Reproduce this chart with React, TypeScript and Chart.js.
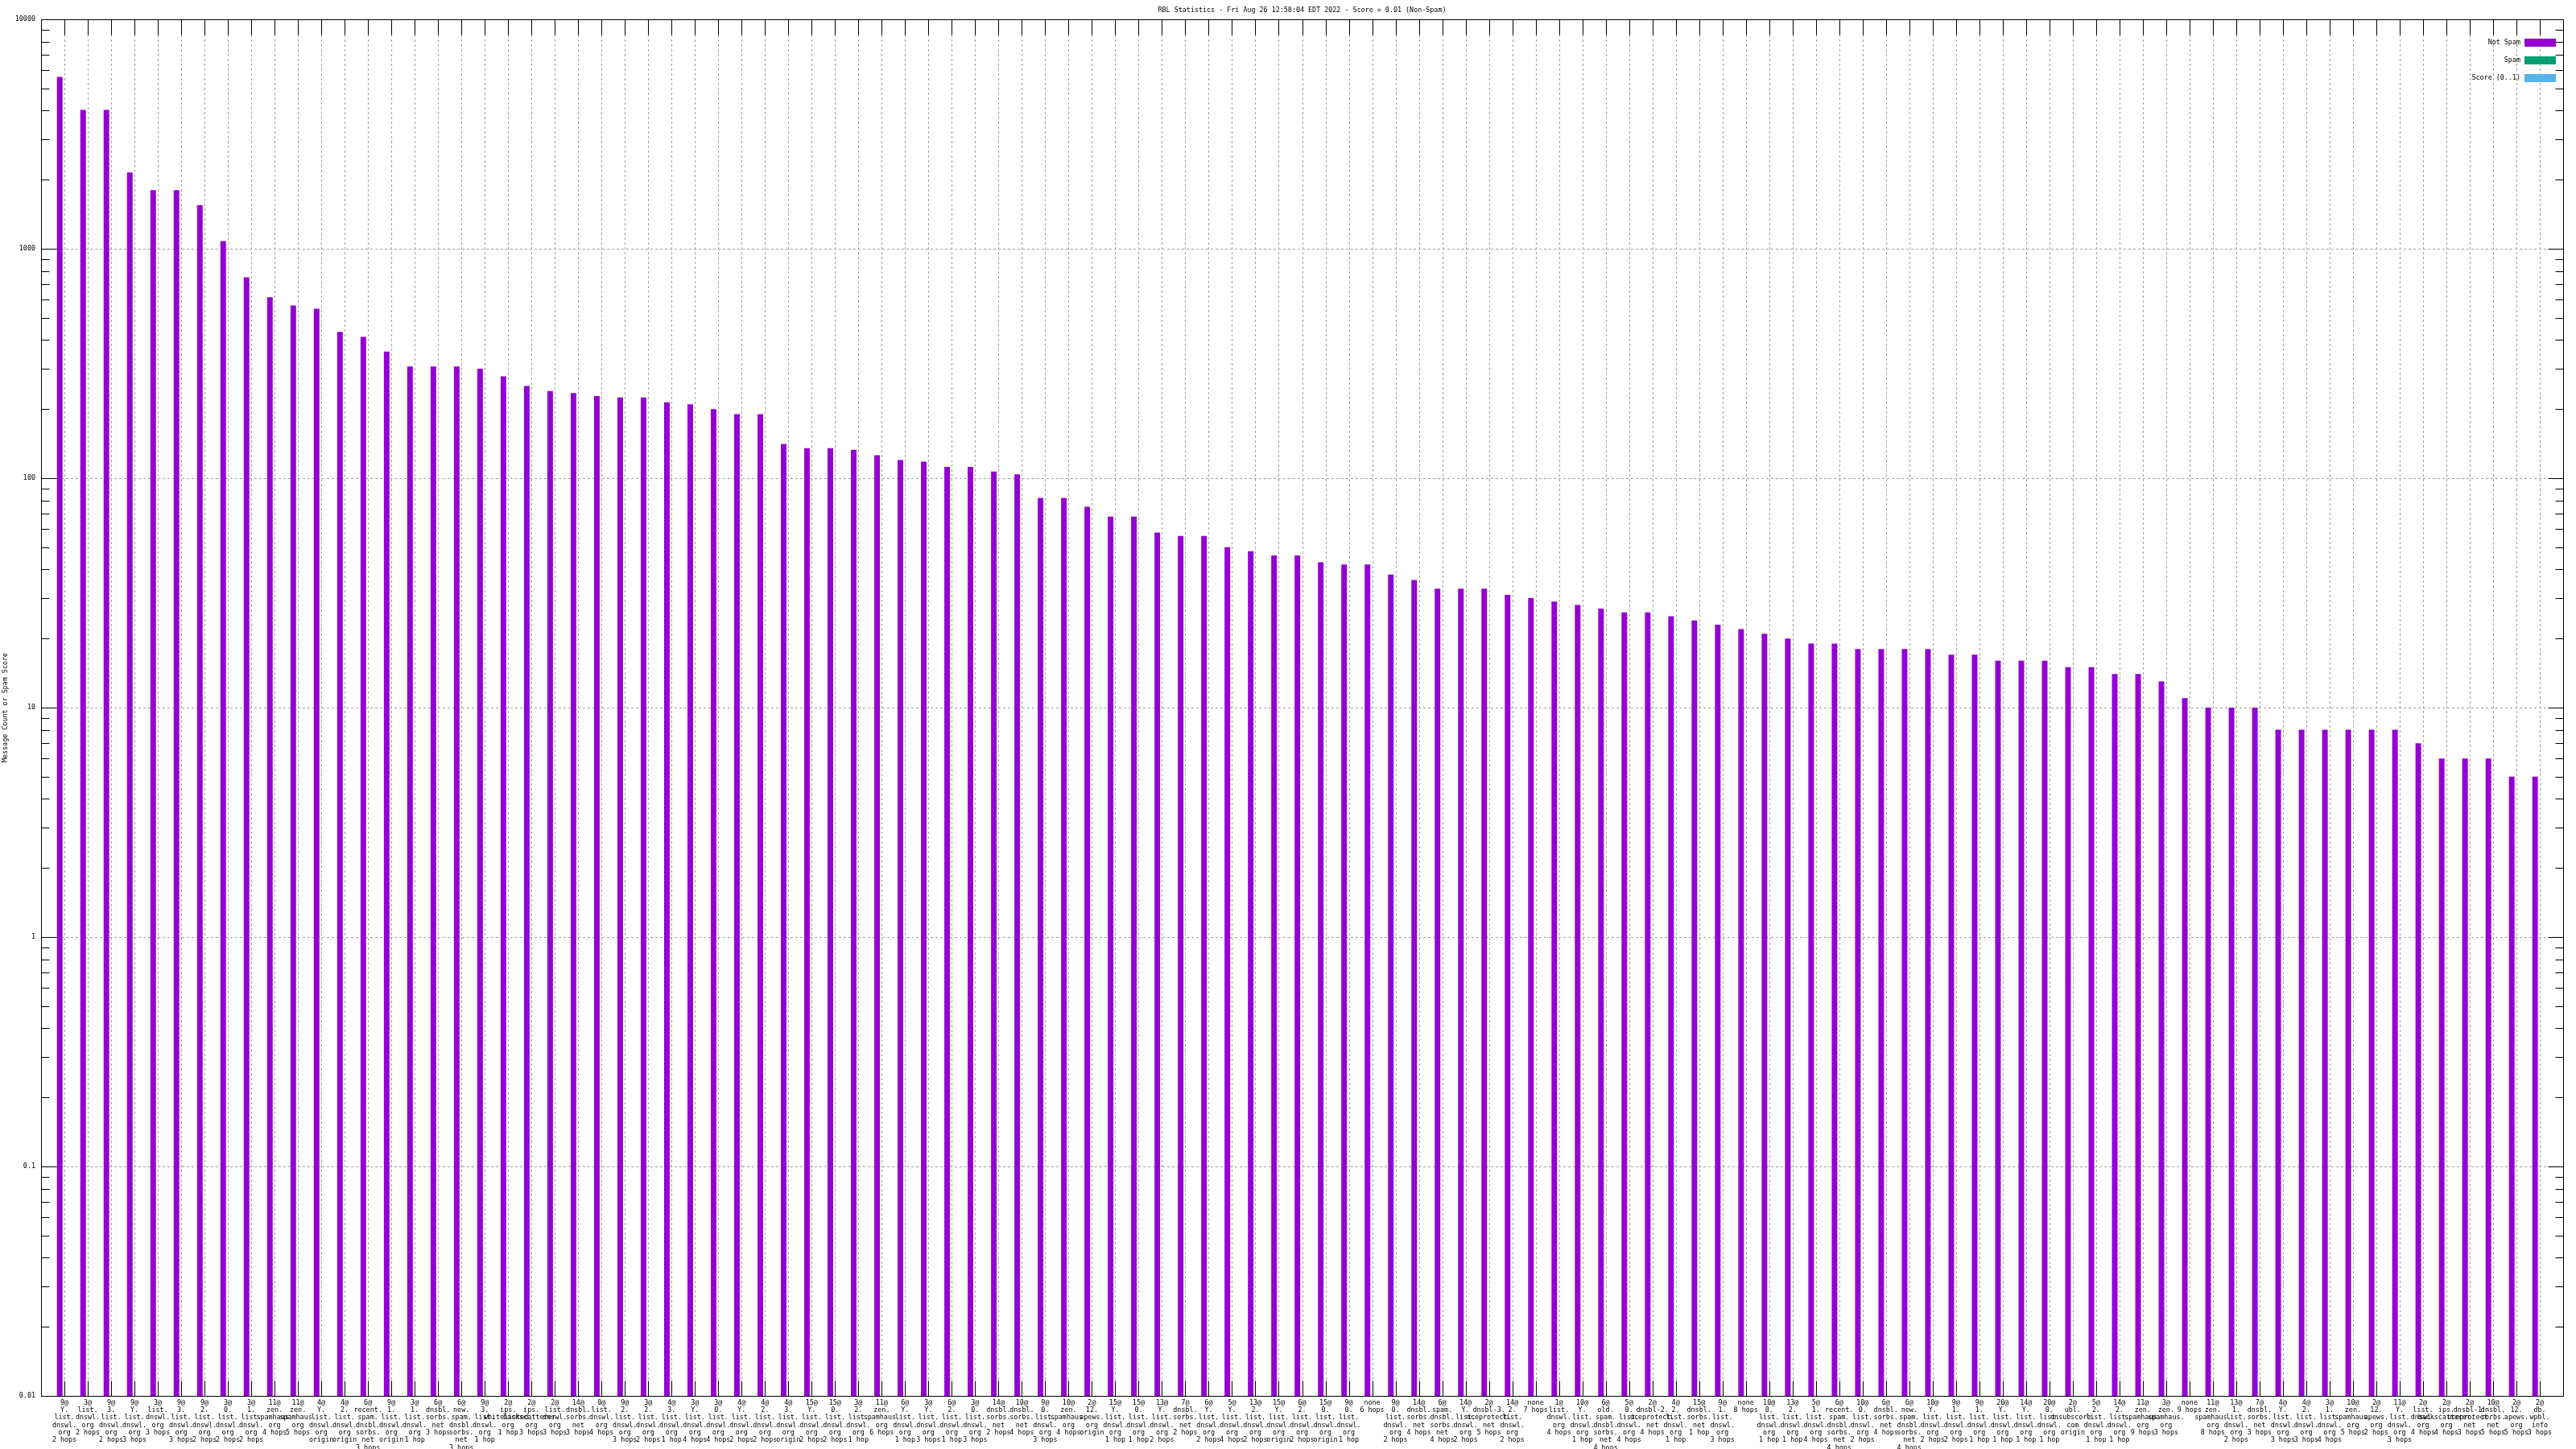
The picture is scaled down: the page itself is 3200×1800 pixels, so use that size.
import React, { useEffect, useRef } from "react";
import { Chart, registerables } from "chart.js";

Chart.register(...registerables);

const TITLE = "RBL Statistics - Fri Aug 26 12:58:04 EDT 2022 - Score = 0.01 (Non-Spam)";
const Y_TITLE = "Message Count or Spam Score";
const SERIES_NAMES = ["Not Spam", "Spam", "Score (0..1)"];
const SERIES_COLORS = ["#9400d3", "#009e73", "#56b4e9"];

// category labels, "|" separates the printed lines
const categories = [
  "9@|Y.|list.|dnswl.|org|2 hops",
  "3@|list.|dnswl.|org|2 hops",
  "9@|3.|list.|dnswl.|org|2 hops",
  "9@|Y.|list.|dnswl.|org|3 hops",
  "3@|list.|dnswl.|org|3 hops",
  "9@|3.|list.|dnswl.|org|3 hops",
  "9@|2.|list.|dnswl.|org|2 hops",
  "3@|0.|list.|dnswl.|org|2 hops",
  "3@|1.|list.|dnswl.|org|2 hops",
  "11@|zen.|spamhaus.|org|4 hops",
  "11@|zen.|spamhaus.|org|5 hops",
  "4@|Y.|list.|dnswl.|org|origin",
  "4@|2.|list.|dnswl.|org|origin",
  "6@|recent.|spam.|dnsbl.|sorbs.|net|3 hops",
  "9@|1.|list.|dnswl.|org|origin",
  "3@|1.|list.|dnswl.|org|1 hop",
  "6@|dnsbl.|sorbs.|net|3 hops",
  "6@|new.|spam.|dnsbl.|sorbs.|net|3 hops",
  "9@|3.|list.|dnswl.|org|1 hop",
  "2@|ips.|whitelisted.|org|1 hop",
  "2@|ips.|backscatterer.|org|3 hops",
  "2@|list.|dnswl.|org|3 hops",
  "14@|dnsbl.|sorbs.|net|3 hops",
  "0@|list.|dnswl.|org|4 hops",
  "9@|2.|list.|dnswl.|org|3 hops",
  "3@|2.|list.|dnswl.|org|2 hops",
  "4@|3.|list.|dnswl.|org|1 hop",
  "3@|Y.|list.|dnswl.|org|4 hops",
  "3@|0.|list.|dnswl.|org|4 hops",
  "4@|Y.|list.|dnswl.|org|2 hops",
  "4@|2.|list.|dnswl.|org|2 hops",
  "4@|3.|list.|dnswl.|org|origin",
  "15@|Y.|list.|dnswl.|org|2 hops",
  "15@|0.|list.|dnswl.|org|2 hops",
  "3@|2.|list.|dnswl.|org|1 hop",
  "11@|zen.|spamhaus.|org|6 hops",
  "6@|Y.|list.|dnswl.|org|1 hop",
  "3@|Y.|list.|dnswl.|org|3 hops",
  "6@|2.|list.|dnswl.|org|1 hop",
  "3@|0.|list.|dnswl.|org|3 hops",
  "14@|dnsbl.|sorbs.|net|2 hops",
  "10@|dnsbl.|sorbs.|net|4 hops",
  "9@|0.|list.|dnswl.|org|3 hops",
  "10@|zen.|spamhaus.|org|4 hops",
  "2@|12.|apews.|org|origin",
  "15@|Y.|list.|dnswl.|org|1 hop",
  "15@|0.|list.|dnswl.|org|1 hop",
  "13@|Y.|list.|dnswl.|org|2 hops",
  "7@|dnsbl.|sorbs.|net|2 hops",
  "6@|Y.|list.|dnswl.|org|2 hops",
  "5@|Y.|list.|dnswl.|org|4 hops",
  "13@|2.|list.|dnswl.|org|2 hops",
  "15@|Y.|list.|dnswl.|org|origin",
  "6@|2.|list.|dnswl.|org|2 hops",
  "15@|0.|list.|dnswl.|org|origin",
  "9@|0.|list.|dnswl.|org|1 hop",
  "none|6 hops",
  "9@|0.|list.|dnswl.|org|2 hops",
  "14@|dnsbl.|sorbs.|net|4 hops",
  "6@|spam.|dnsbl.|sorbs.|net|4 hops",
  "14@|Y.|list.|dnswl.|org|2 hops",
  "2@|dnsbl-3.|uceprotect.|net|5 hops",
  "14@|2.|list.|dnswl.|org|2 hops",
  "none|7 hops",
  "1@|list.|dnswl.|org|4 hops",
  "10@|Y.|list.|dnswl.|org|1 hop",
  "6@|old.|spam.|dnsbl.|sorbs.|net|4 hops",
  "5@|0.|list.|dnswl.|org|4 hops",
  "2@|dnsbl-2.|uceprotect.|net|4 hops",
  "4@|2.|list.|dnswl.|org|1 hop",
  "15@|dnsbl.|sorbs.|net|1 hop",
  "9@|1.|list.|dnswl.|org|3 hops",
  "none|8 hops",
  "10@|0.|list.|dnswl.|org|1 hop",
  "13@|2.|list.|dnswl.|org|1 hop",
  "5@|1.|list.|dnswl.|org|4 hops",
  "6@|recent.|spam.|dnsbl.|sorbs.|net|4 hops",
  "10@|0.|list.|dnswl.|org|2 hops",
  "6@|dnsbl.|sorbs.|net|4 hops",
  "6@|new.|spam.|dnsbl.|sorbs.|net|4 hops",
  "10@|Y.|list.|dnswl.|org|2 hops",
  "9@|1.|list.|dnswl.|org|2 hops",
  "9@|1.|list.|dnswl.|org|1 hop",
  "20@|Y.|list.|dnswl.|org|1 hop",
  "14@|Y.|list.|dnswl.|org|1 hop",
  "20@|0.|list.|dnswl.|org|1 hop",
  "2@|ubl.|unsubscore.|com|origin",
  "5@|2.|list.|dnswl.|org|1 hop",
  "14@|2.|list.|dnswl.|org|1 hop",
  "11@|zen.|spamhaus.|org|9 hops",
  "3@|zen.|spamhaus.|org|3 hops",
  "none|9 hops",
  "11@|zen.|spamhaus.|org|8 hops",
  "13@|1.|list.|dnswl.|org|2 hops",
  "7@|dnsbl.|sorbs.|net|3 hops",
  "4@|Y.|list.|dnswl.|org|3 hops",
  "4@|2.|list.|dnswl.|org|3 hops",
  "3@|1.|list.|dnswl.|org|4 hops",
  "10@|zen.|spamhaus.|org|5 hops",
  "2@|12.|apews.|org|2 hops",
  "11@|Y.|list.|dnswl.|org|3 hops",
  "2@|list.|dnswl.|org|4 hops",
  "2@|ips.|backscatterer.|org|4 hops",
  "2@|dnsbl-1.|uceprotect.|net|3 hops",
  "10@|dnsbl.|sorbs.|net|5 hops",
  "2@|12.|apews.|org|5 hops",
  "2@|db.|wpbl.|info|3 hops",
];

const notSpamCounts = [
  5610, 4030, 4030, 2150, 1800, 1800, 1550, 1080, 750, 615,
  566, 548, 434, 413, 356, 307, 307, 307, 300, 278,
  252, 240, 235, 228, 225, 225, 214, 210, 200, 190,
  190, 141, 135, 135, 133, 126, 120, 118, 112, 112,
  107, 104, 82, 82, 75, 68, 68, 58, 56, 56,
  50, 48, 46, 46, 43, 42, 42, 38, 36, 33,
  33, 33, 31, 30, 29, 28, 27, 26, 26, 25,
  24, 23, 22, 21, 20, 19, 19, 18, 18, 18,
  18, 17, 17, 16, 16, 16, 15, 15, 14, 14,
  13, 11, 10, 10, 10, 8, 8, 8, 8, 8,
  8, 7, 6, 6, 6, 5, 5,
];
const spamCounts: number[] = [];
const scoreValues: number[] = [];

const yTickValues = [0.01, 0.1, 1, 10, 100, 1000, 10000];
const yMinorFactors = [2, 3, 4, 5, 6, 7, 8, 9];

const FONT = '8.4px "DejaVu Sans Mono"';
const TICK_LEN = 19;
const MINOR_LEN = 10;

const gnuplotFrame = {
  id: "gnuplotFrame",
  beforeDraw(chart: any) {
    const ctx = chart.ctx;
    ctx.save();
    ctx.fillStyle = "#ffffff";
    ctx.fillRect(0, 0, chart.width, chart.height);
    ctx.restore();
  },
  beforeDatasetsDraw(chart: any) {
    const { ctx, chartArea: a, scales } = chart;
    const xs = scales.x;
    const ys = scales.y;
    ctx.save();
    ctx.strokeStyle = "#a0a0a0";
    ctx.lineWidth = 1;
    ctx.setLineDash([3, 3]);
    xs.ticks.forEach((t: any) => {
      const px = Math.round(xs.getPixelForValue(t.value)) + 0.5;
      ctx.beginPath();
      ctx.moveTo(px, a.top + TICK_LEN);
      ctx.lineTo(px, a.bottom - TICK_LEN);
      ctx.stroke();
    });
    yTickValues.forEach((v) => {
      const py = Math.round(ys.getPixelForValue(v)) + 0.5;
      ctx.beginPath();
      ctx.moveTo(a.left + TICK_LEN, py);
      ctx.lineTo(a.right - TICK_LEN, py);
      ctx.stroke();
    });
    ctx.restore();
  },
  afterDatasetsDraw(chart: any) {
    const { ctx, chartArea: a, scales } = chart;
    const xs = scales.x;
    const ys = scales.y;
    ctx.save();
    ctx.strokeStyle = "#000000";
    ctx.lineWidth = 1;
    ctx.setLineDash([]);
    const L = Math.round(a.left) + 0.5;
    const R = Math.round(a.right) + 0.5;
    const T = Math.round(a.top) + 0.5;
    const B = Math.round(a.bottom) + 0.5;
    ctx.beginPath();
    xs.ticks.forEach((t: any) => {
      const px = Math.round(xs.getPixelForValue(t.value)) + 0.5;
      ctx.moveTo(px, B);
      ctx.lineTo(px, B - TICK_LEN);
      ctx.moveTo(px, T);
      ctx.lineTo(px, T + TICK_LEN);
    });
    yTickValues.forEach((v, i) => {
      const py = Math.round(ys.getPixelForValue(v)) + 0.5;
      ctx.moveTo(L, py);
      ctx.lineTo(L + TICK_LEN, py);
      ctx.moveTo(R, py);
      ctx.lineTo(R - TICK_LEN, py);
      if (i < yTickValues.length - 1) {
        yMinorFactors.forEach((f) => {
          const my = Math.round(ys.getPixelForValue(v * f)) + 0.5;
          ctx.moveTo(L, my);
          ctx.lineTo(L + MINOR_LEN, my);
          ctx.moveTo(R, my);
          ctx.lineTo(R - MINOR_LEN, my);
        });
      }
    });
    ctx.stroke();
    ctx.strokeRect(L, T, R - L, B - T);

    ctx.fillStyle = "#000000";
    ctx.font = FONT;
    ctx.textAlign = "center";
    ctx.textBaseline = "middle";
    ctx.fillText(TITLE, (a.left + a.right) / 2, 13);

    ctx.save();
    ctx.translate(7, (a.top + a.bottom) / 2);
    ctx.rotate(-Math.PI / 2);
    ctx.fillText(Y_TITLE, 0, 0);
    ctx.restore();

    const ds = chart.data.datasets;
    ctx.textAlign = "right";
    ds.forEach((d: any, i: number) => {
      const cy = 53 + i * 22;
      ctx.fillStyle = "#000000";
      ctx.fillText(d.label, a.right - 53, cy);
      ctx.fillStyle = d.backgroundColor;
      ctx.fillRect(a.right - 48, cy - 5, 39, 10);
    });
    ctx.restore();
  },
};

export default function App() {
  const ref = useRef<HTMLCanvasElement | null>(null);

  useEffect(() => {
    document.body.style.margin = "0";
    const canvas = ref.current;
    if (!canvas) return;
    const chart = new Chart(canvas, {
      type: "bar",
      data: {
        datasets: [
          {
            label: SERIES_NAMES[0],
            data: notSpamCounts.map((y, i) => ({ x: i, y })),
            backgroundColor: SERIES_COLORS[0],
            borderWidth: 0,
          },
          {
            label: SERIES_NAMES[1],
            data: spamCounts.map((y, i) => ({ x: i, y })),
            backgroundColor: SERIES_COLORS[1],
            borderWidth: 0,
          },
          {
            label: SERIES_NAMES[2],
            data: scoreValues.map((y, i) => ({ x: i, y })),
            backgroundColor: SERIES_COLORS[2],
            borderWidth: 0,
          },
        ],
      },
      options: {
        responsive: false,
        animation: false,
        devicePixelRatio: 1,
        categoryPercentage: 0.6,
        barPercentage: 1.2,
        layout: { padding: { top: 24, right: 16, left: 0, bottom: 0 } },
        plugins: {
          legend: { display: false },
          title: { display: false },
          tooltip: { enabled: false },
        },
        scales: {
          x: {
            type: "linear",
            offset: false,
            min: -1,
            max: categories.length,
            grid: { display: false, drawTicks: false, offset: false },
            border: { display: false },
            afterBuildTicks: (scale: any) => {
              scale.ticks = categories.map((_, i) => ({ value: i }));
            },
            afterFit: (scale: any) => {
              scale.height = 66;
              scale.paddingLeft = 0;
              scale.paddingRight = 0;
            },
            ticks: {
              autoSkip: false,
              maxRotation: 0,
              minRotation: 0,
              padding: 4,
              color: "#000000",
              font: { family: "DejaVu Sans Mono", size: 8.4, lineHeight: "9.3px" },
              callback: (v: any) => {
                const c = categories[Math.round(Number(v))];
                return c ? c.split("|") : "";
              },
            },
          },
          y: {
            type: "logarithmic",
            min: 0.01,
            max: 10000,
            grid: { display: false, drawTicks: false },
            border: { display: false },
            afterBuildTicks: (scale: any) => {
              scale.ticks = yTickValues.map((v) => ({ value: v }));
            },
            afterFit: (scale: any) => {
              scale.width = 51;
            },
            ticks: {
              padding: 7,
              color: "#000000",
              font: { family: "DejaVu Sans Mono", size: 8.4 },
              callback: (v: any) => String(v),
            },
          },
        },
      },
      plugins: [gnuplotFrame],
    } as any);
    return () => chart.destroy();
  }, []);

  return (
    <div style={{ width: 3200, height: 1800 }}>
      <canvas ref={ref} width={3200} height={1800} style={{ display: "block" }} />
    </div>
  );
}
